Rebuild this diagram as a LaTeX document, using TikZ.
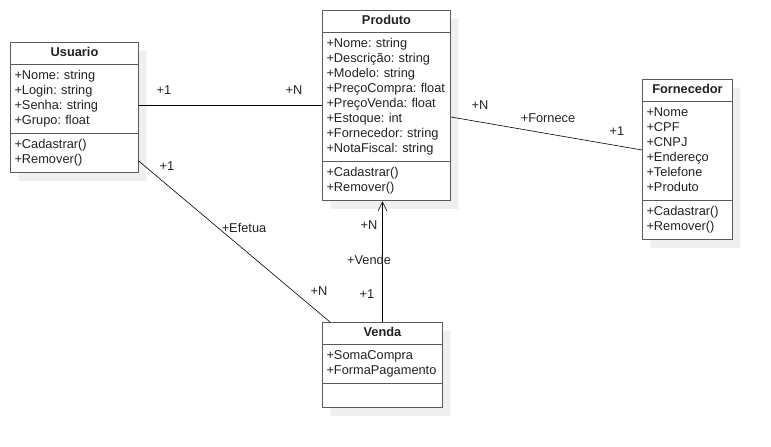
\documentclass[tikz,border=0pt]{standalone}
\usepackage{fontspec}
\setmainfont{Liberation Sans}
\usetikzlibrary{shapes.multipart,shadows,arrows.meta,calc}
\definecolor{borda}{HTML}{5A5A5A}
\definecolor{sombra}{HTML}{EFEFEF}
\definecolor{tinta}{HTML}{222222}
\tikzset{
  % classe UML: nome em cima, atributos, metodos embaixo
  cls/.style={
    draw=borda, line width=1pt, fill=white,
    rectangle split, rectangle split parts=3,
    inner xsep=4pt, inner ysep=4pt, align=left, anchor=north west,
    font=\fontsize{12.8}{15}\selectfont\frenchspacing, text=tinta,
    general shadow={fill=sombra, shadow xshift=8pt, shadow yshift=-8pt},
  },
  assoc/.style={draw=black, line width=.6pt},
  lbl/.style={font=\fontsize{12.8}{15}\selectfont, inner sep=1pt, text=tinta},
}
\newcommand{\cls}[6]{%
  \node[cls, text width=#3] (#1) at (#2)
    {\hbox to\hsize{\hfil\rule[-4pt]{0pt}{13pt}\textbf{#4}\hfil}\nodepart{two}\strut#5\strut
     \nodepart{three}\strut#6\strut};}

\begin{document}
\begin{tikzpicture}[x=1pt,y=-1pt]
\useasboundingbox (0,0) rectangle (771,447);

% ----- classes -----
\cls{usuario}{10,42}{120pt}{Usuario}{+Nome: string\\+Login: string\\+Senha: string\\+Grupo: float}{+Cadastrar()\\+Remover()}
\cls{produto}{322,10}{120pt}{Produto}{+Nome: string\\+Descrição: string\\+Modelo: string\\+PreçoCompra: float\\+PreçoVenda: float\\+Estoque: int\\+Fornecedor: string\\+NotaFiscal: string}{+Cadastrar()\\+Remover()}
\cls{fornecedor}{642,79}{82pt}{Fornecedor}{+Nome\\+CPF\\+CNPJ\\+Endereço\\+Telefone\\+Produto}{+Cadastrar()\\+Remover()}
\cls{venda}{322,322}{112pt}{Venda}{+SomaCompra\\+FormaPagamento}{}

% ----- associacoes -----
% Usuario -- Produto
\draw[assoc] (usuario.east |- produto.west) -- (produto.west);
\node[lbl] (u1) at (164,90) {+1};
\node[lbl] (pn) at (294,90) {+N};

% Usuario efetua Venda
\draw[assoc] ($(usuario.south east)+(0,-12)$) -- ($(venda.north west)+(8,0)$);
\node[lbl] (u2) at (167,166) {+1};
\node[lbl] (efetua) at (244,228) {+Efetua};
\node[lbl] (vn) at (319,291) {+N};

% Produto -- Fornecedor
\draw[assoc] ($(produto.north east)+(0,107)$) -- ($(fornecedor.north west)+(0,71)$);
\node[lbl] (pn2) at (480,105) {+N};
\node[lbl] (fornece) at (548,118) {+Fornece};
\node[lbl] (f1) at (617,131) {+1};

% Venda vende Produto (navegavel)
\draw[assoc, -{Straight Barb[length=9pt,width=9pt]}] (venda.north) -- (venda.north |- produto.south);
\node[lbl] (pn3) at (369,225) {+N};
\node[lbl] (vende) at (369,260) {+Vende};
\node[lbl] (v1) at (367,294) {+1};

\end{tikzpicture}
\end{document}
